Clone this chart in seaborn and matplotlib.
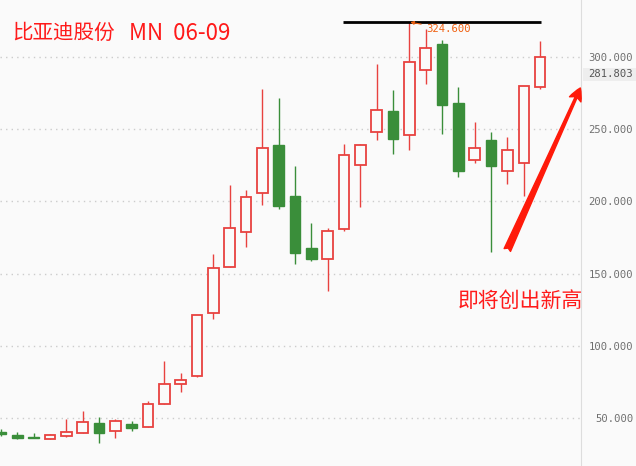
# 比亚迪股份 monthly candlestick chart (MN)

import pandas as pd
import matplotlib.pyplot as plt
import seaborn as sns
from matplotlib.patches import Rectangle

# monthly OHLC
opens = [40.3, 37.8, 36.8, 35.4, 37.5, 39.2, 46.3, 40.6, 45.4, 43.3,
         59.3, 73.2, 78.7, 122.6, 154.3, 178.6, 205.7, 239.2, 203.9, 167.7,
         159.9, 180.7, 225.1, 248.0, 262.8, 245.9, 291.4, 309.4, 268.3, 228.6,
         242.6, 220.9, 226.5, 279.6]
highs = [42.4, 40.0, 39.3, 38.7, 49.1, 54.6, 50.5, 48.9, 47.7, 61.4,
         89.3, 80.8, 121.0, 163.4, 211.4, 208.0, 278.0, 271.8, 224.6, 185.1,
         181.4, 239.9, 239.9, 295.4, 277.3, 324.6, 319.4, 312.0, 279.2, 255.1,
         248.4, 244.7, 279.9, 311.3]
lows = [37.3, 35.2, 36.0, 35.4, 36.6, 39.2, 32.7, 36.1, 41.0, 43.3,
        59.3, 68.0, 78.0, 118.3, 154.3, 168.6, 197.8, 195.0, 156.8, 158.9,
        138.1, 179.7, 196.4, 242.8, 233.1, 235.5, 281.3, 247.0, 217.2, 226.9,
        165.2, 212.3, 204.0, 277.8]
closes = [38.7, 35.9, 36.2, 37.8, 39.9, 46.8, 39.6, 47.5, 43.1, 59.3,
          73.2, 75.9, 121.0, 153.6, 181.4, 202.9, 236.9, 197.1, 164.5, 160.3,
          179.3, 232.0, 239.0, 263.2, 243.5, 296.5, 306.2, 267.1, 221.3, 236.9,
          224.8, 235.7, 279.9, 300.0]

y_ticks = [50, 100, 150, 200, 250, 300]
stock_name = "比亚迪股份"
period_label = "MN  06-09"
note = "即将创出新高"
peak_value = 324.6
last_price = 281.803

RED = '#E8423F'
GREEN = '#3A8E3A'
BG = '#FAFAFA'

df = pd.DataFrame({'open': opens, 'high': highs, 'low': lows, 'close': closes})
df['x'] = range(len(df))
df['up'] = df['close'] >= df['open']

sns.set_style('white', {'axes.facecolor': BG, 'figure.facecolor': BG})
plt.rcParams['font.family'] = ['Noto Sans CJK SC', 'DejaVu Sans']

fig = plt.figure(figsize=(6.36, 4.66), dpi=100)
ax = fig.add_axes([0, 0, 581 / 636, 1])

# wicks
colors = [RED if u else GREEN for u in df['up']]
ax.vlines(df['x'], df['low'], df['high'], colors=colors, linewidth=1.0, zorder=2)

# bodies: red hollow, green filled
bottoms = df[['open', 'close']].min(axis=1)
heights = (df['close'] - df['open']).abs().clip(lower=0.4)
up = df['up']
ax.bar(df.loc[up, 'x'], heights[up], bottom=bottoms[up], width=0.65,
       facecolor=BG, edgecolor=RED, linewidth=1.3, zorder=3)
ax.bar(df.loc[~up, 'x'], heights[~up], bottom=bottoms[~up], width=0.65,
       facecolor=GREEN, edgecolor=GREEN, linewidth=1.0, zorder=3)

ax.set_xlim(-0.06, 35.5)
ax.set_ylim(16.5, 339.7)

# axis styling
ax.yaxis.tick_right()
ax.set_yticks(y_ticks)
ax.set_yticklabels([f'{v:.3f}' for v in y_ticks], family='DejaVu Sans Mono',
                   fontsize=7.6, color='#707070', ha='right')
ax.tick_params(axis='y', length=0, pad=37.5)
ax.set_xticks([])
for side in ['left', 'top', 'bottom']:
    ax.spines[side].set_visible(False)
ax.spines['right'].set_color('#DDDDDD')
ax.grid(True, axis='y', color='#CCCCCC', linestyle=(0, (1, 3)), linewidth=1.0)
ax.set_axisbelow(True)

# record high line and label
peak_idx = df['high'].idxmax()
ax.hlines(peak_value, 20.94, 33.07, color='black', linewidth=2, zorder=4)
ax.annotate(f'{peak_value:.3f}', xy=(peak_idx + 0.05, peak_value - 0.3),
            xytext=(26.0, 319.6), fontsize=7.6, family='DejaVu Sans Mono',
            color='#F06010', va='center', ha='left', zorder=5,
            arrowprops=dict(arrowstyle='-|>', color='#F06010', lw=0.8,
                            mutation_scale=5, shrinkA=1, shrinkB=0))

# last price tag on the right axis
trans = ax.get_yaxis_transform()
ax.add_patch(Rectangle((583 / 581, 283.4), 53 / 581, 9.4, transform=trans,
                       facecolor='#EEEEEE', edgecolor='none', clip_on=False))
ax.text(633 / 581, 288.1, f'{last_price:.3f}', transform=trans, ha='right',
        va='center', fontsize=7.6, family='DejaVu Sans Mono', color='#555555')

# trend arrow + note
ax.annotate('', xy=(35.46, 278.7), xytext=(30.99, 166.3), annotation_clip=False,
            arrowprops=dict(arrowstyle='fancy,head_length=0.5,head_width=0.5,tail_width=0.28',
                            color='#FF1A0A', mutation_scale=18, shrinkA=0, shrinkB=0))
ax.text(27.98, 131.0, note, fontsize=15, color='#FF1A1A', ha='left', va='center',
        clip_on=False)

# title
fig.text(12 / 636, 1 - 33 / 466, stock_name, fontsize=14.8, color='#FF1A1A',
         ha='left', va='center')
fig.text(129 / 636, 1 - 33 / 466, period_label, fontsize=16, color='#FF1A1A',
         ha='left', va='center')

fig.savefig('out.png', dpi=100, facecolor=BG)
